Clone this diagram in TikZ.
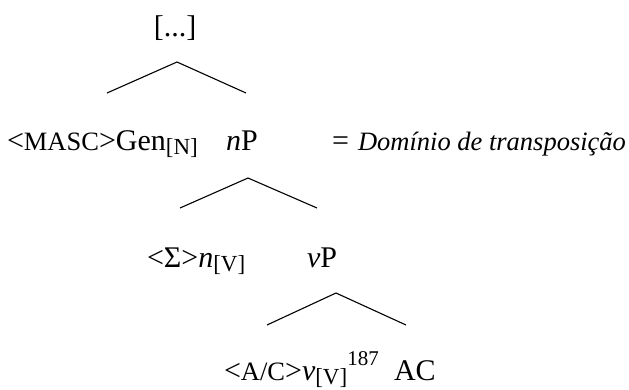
\documentclass[tikz,border=0pt]{standalone}
\usepackage{fontspec}
\setmainfont{Liberation Serif}
\newcommand\sz[1]{\fontsize{#1}{#1}\selectfont}
\newcommand\lsub[1]{\raisebox{-4.5pt}{\sz{23}#1}}
\tikzset{
  txt/.style={inner sep=0pt, outer sep=0pt, anchor=base west, font=\sz{30}},
  branch/.style={line width=1.1pt, line join=miter}
}
\begin{document}
\begin{tikzpicture}[x=1pt, y=-1pt]
\useasboundingbox (0,0) rectangle (629,389);
% row 1
\node[txt, anchor=base] (top) at (175,36) {[...]};
% caret 1
\coordinate (c1) at (177,62);
\coordinate (c1l) at (107,93);
\coordinate (c1r) at (246,93);
\draw[branch] (c1l) -- (c1) -- (c1r);
% row 2
\node[txt] (gen) at (7,150) {<{\sz{26.5}MASC}>Gen\lsub{[N]}};
\node[txt] (np) at (226,150) {\textit{n}P};
\node[txt] (eq) at (332,150) {=};
\node[txt, font=\sz{26.5}\itshape] (dom) at (358,150) {Domínio de transposição};
% caret 2
\coordinate (c2) at (248,178);
\coordinate (c2l) at (180,208);
\coordinate (c2r) at (317,208);
\draw[branch] (c2l) -- (c2) -- (c2r);
% row 3
\node[txt] (nv) at (147,267) {<Σ>\textit{n}\lsub{[V]}};
\node[txt] (vp) at (307,267) {\textit{v}P};
% caret 3
\coordinate (c3) at (336,293);
\coordinate (c3l) at (267,325);
\coordinate (c3r) at (406,325);
\draw[branch] (c3l) -- (c3) -- (c3r);
% row 4
\node[txt] (vv) at (224,380) {<{\sz{26.5}A/C}>\textit{v}\lsub{[V]}\raisebox{15pt}{\sz{21}187}};
\node[txt] (ac) at (394,380) {AC};
\end{tikzpicture}
\end{document}
